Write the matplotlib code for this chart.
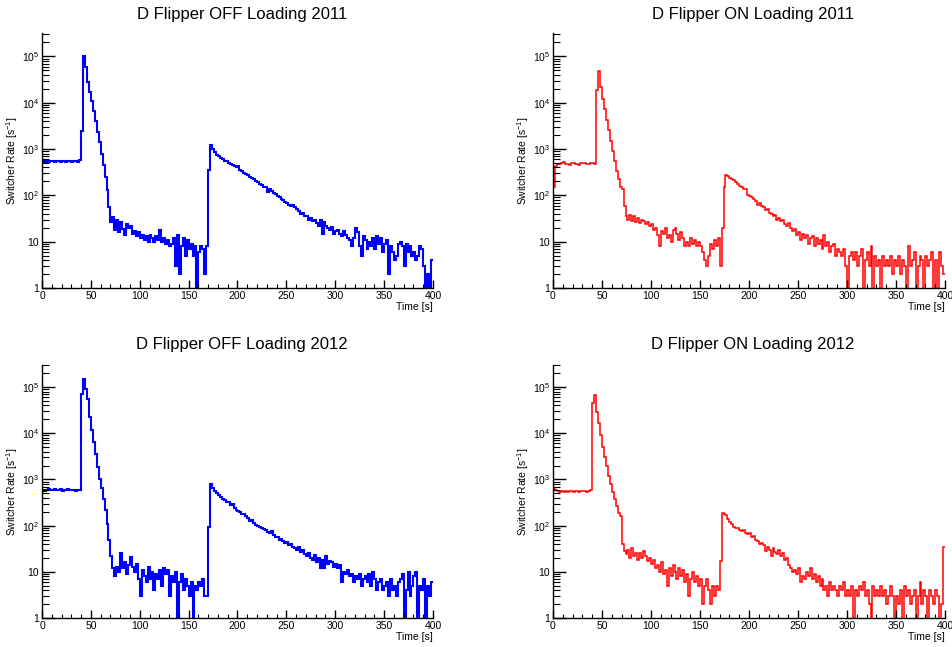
import numpy as np
import matplotlib
matplotlib.use("Agg")
import matplotlib.pyplot as plt
from matplotlib.ticker import FixedLocator, MultipleLocator, LogLocator, NullFormatter

plt.rcParams['font.family'] = ['Liberation Sans', 'DejaVu Sans']
plt.rcParams['mathtext.default'] = 'regular'

# ---------------- data (2 s bins, 0..400 s) ----------------
titles = ["D Flipper OFF Loading 2011", "D Flipper ON Loading 2011",
          "D Flipper OFF Loading 2012", "D Flipper ON Loading 2012"]
colors = ["#0000ff", "#ff0000", "#0000ff", "#ff0000"]

off_2011 = [560, 530, 550, 520, 540, 560, 530, 550, 540, 520, 560, 540, 530, 550, 560, 520, 540, 550, 530, 580,
            2500, 100000, 60000, 28000, 17000, 11000, 6500, 4000, 2300, 1400, 800, 450, 250, 130, 55,
            26, 34, 18, 30, 16, 26, 19, 14, 24, 20, 22, 15, 17, 13, 16,
            12, 14, 11, 13, 10, 14, 12, 10, 13, 11, 18, 10, 12, 9, 11, 8, 9, 12, 3, 14, 2, 8, 12, 5, 11,
            7, 9, 5, 8, 0, 6, 8, 7, 2, 8, 360, 1200,
            1000, 850, 760, 700, 640, 620, 560, 540, 500, 470, 460, 420, 400, 430, 360, 330, 310, 290, 270, 250,
            240, 220, 205, 190, 180, 170, 150, 155, 120, 140, 125, 110, 105, 95, 90, 85, 80, 72, 68, 62,
            60, 62, 55, 50, 46, 40, 42, 35, 36, 30, 33, 28, 29, 25, 22, 30, 15, 26, 22, 20,
            18, 21, 15, 17, 18, 15, 13, 17, 14, 12, 11, 8, 12, 20, 16, 8, 5, 13, 11, 7,
            10, 8, 12, 7, 13, 9, 12, 6, 9, 11, 2, 8, 6, 4, 5, 9, 10, 8, 3, 9,
            6, 8, 5, 6, 4, 5, 8, 7, 3, 0, 2, 0, 4]

on_2011 = [150, 420, 480, 470, 500, 520, 470, 480, 460, 490, 500, 470, 480, 460, 500, 490, 510, 480, 470, 490,
           500, 480, 19000, 48000, 22000, 12000, 7500, 4300, 2600, 1500, 900, 550, 330, 220, 150,
           135, 60, 36, 30, 38, 28, 36, 26, 32, 25, 30, 28, 24, 26, 22,
           24, 18, 20, 14, 8, 17, 15, 20, 12, 14, 10, 18, 20, 15, 11, 16, 12, 8, 10, 8,
           12, 9, 11, 8, 10, 8, 6, 4, 3, 5, 9, 7, 11, 8, 12, 3, 20,
           150, 270, 260, 240, 230, 210, 190, 180, 160, 150, 140, 135, 100, 95, 92, 85, 75, 62, 68, 60,
           55, 48, 52, 42, 40, 36, 38, 30, 33, 28, 30, 24, 22, 25, 20, 17, 19, 14, 16, 11,
           15, 12, 14, 9, 12, 13, 8, 12, 9, 11, 7, 14, 8, 10, 6, 8, 9, 5, 7, 6,
           5, 7, 3, 0, 5, 6, 4, 6, 3, 5, 7, 0, 4, 6, 3, 8, 0, 5, 3, 4,
           0, 5, 3, 4, 3, 5, 2, 4, 3, 5, 2, 4, 3, 0, 8, 3, 4, 6, 0, 3,
           5, 4, 0, 5, 3, 4, 6, 0, 4, 0, 6, 3, 2]

off_2012 = [600, 570, 590, 610, 580, 600, 620, 580, 590, 610, 570, 600, 590, 620, 580, 600, 590, 570, 600, 590,
            70000, 150000, 90000, 55000, 22000, 12000, 6500, 3500, 1900, 1000, 640, 380, 220, 110, 50, 22, 12,
            8, 13, 10, 25, 12, 16, 9, 14, 21, 13, 10, 15, 7,
            3, 11, 8, 6, 13, 7, 10, 4, 9, 7, 11, 5, 12, 9, 11, 3, 8, 6, 10, 0,
            6, 9, 4, 7, 5, 3, 6, 0, 5, 4, 6, 5, 7, 3, 3, 95, 800,
            650, 560, 500, 460, 420, 380, 350, 330, 320, 280, 300, 240, 220, 210, 195, 175, 180, 160, 145, 125,
            130, 115, 105, 100, 95, 90, 85, 80, 72, 68, 75, 62, 58, 56, 50, 52, 46, 42, 45, 38,
            40, 35, 32, 30, 34, 27, 29, 24, 22, 26, 20, 18, 23, 16, 20, 12, 18, 12, 22, 15,
            17, 16, 13, 15, 12, 14, 6, 10, 9, 11, 8, 9, 6, 8, 7, 9, 5, 7, 8, 6,
            9, 5, 10, 7, 4, 6, 7, 4, 5, 6, 3, 7, 4, 5, 3, 6, 7, 9, 0, 4,
            10, 3, 5, 8, 10, 0, 5, 4, 7, 0, 5, 3, 6]

on_2012 = [620, 600, 560, 540, 550, 540, 560, 540, 550, 560, 540, 550, 560, 540, 570, 550, 560, 540, 560, 580,
           46000, 66000, 29000, 17000, 9000, 5000, 3000, 2000, 1200, 800, 540, 380, 260, 185, 160,
           40, 28, 24, 30, 20, 33, 22, 26, 18, 25, 20, 28, 22, 17, 20,
           15, 18, 12, 14, 10, 16, 9, 11, 5, 12, 8, 14, 10, 7, 12, 8, 11, 6, 9, 3,
           7, 10, 6, 8, 5, 7, 2, 5, 7, 4, 2, 5, 3, 5, 4, 17,
           190, 180, 170, 140, 120, 110, 95, 88, 90, 82, 78, 80, 70, 65, 68, 58, 60, 50, 46, 40,
           42, 38, 28, 35, 30, 22, 32, 27, 24, 30, 22, 25, 18, 20, 14, 12, 10, 11, 9, 12,
           6, 8, 7, 10, 8, 12, 7, 9, 6, 8, 5, 7, 4, 5, 3, 6, 4, 5, 4, 3,
           5, 4, 6, 3, 4, 3, 5, 0, 4, 3, 5, 4, 6, 3, 4, 2, 0, 5, 3, 4,
           3, 5, 3, 4, 2, 3, 5, 3, 0, 3, 2, 4, 0, 5, 3, 4, 2, 3, 4, 0,
           3, 6, 2, 4, 3, 0, 4, 3, 2, 4, 3, 0, 2, 35]

series = [off_2011, on_2011, off_2012, on_2012]
x_max = 400
y_ticks = [1, 10, 100, 1000, 10000, 100000]
y_tick_labels = ["1", "10", "$10^{2}$", "$10^{3}$", "$10^{4}$", "$10^{5}$"]

# ---------------- layout ----------------
W, H = 953, 647
fig = plt.figure(figsize=(W / 100, H / 100), dpi=100)

boxes = [  # left, top, right, bottom in pixels
    (42, 33, 433, 288),
    (553, 33, 945, 288),
    (42, 365, 433, 618),
    (553, 365, 945, 618),
]
ylabel_x = [20, 531, 20, 531]
title_pos = [(242, 14), (753, 14), (242, 344), (753, 344)]

for i, (vals, col, ttl) in enumerate(zip(series, colors, titles)):
    l, t, r, b = boxes[i]
    ax = fig.add_axes([l / W, 1 - b / H, (r - l) / W, (b - t) / H])
    v = np.asarray(vals, dtype=float)
    edges = np.linspace(0, x_max, len(v) + 1)
    vplot = np.where(v > 0, v, 0.3)
    ax.stairs(vplot, edges, color=col, lw=1.5 if col == "#0000ff" else 1.1, baseline=None)
    ax.set_yscale('log')
    ax.set_xlim(0, x_max)
    ax.set_ylim(1, 3.2e5 if i < 2 else 3.0e5)
    for s in ('top', 'right'):
        ax.spines[s].set_visible(False)
    for s in ('left', 'bottom'):
        ax.spines[s].set_linewidth(1.0)
    ax.xaxis.set_major_locator(MultipleLocator(50))
    ax.xaxis.set_minor_locator(MultipleLocator(10))
    ax.yaxis.set_major_locator(FixedLocator(y_ticks))
    ax.set_yticklabels(y_tick_labels)
    ax.yaxis.set_minor_locator(LogLocator(base=10, subs=np.arange(2, 10), numticks=20))
    ax.yaxis.set_minor_formatter(NullFormatter())
    ax.tick_params(axis='both', which='both', direction='in', labelsize=7.5, colors='black', pad=2)
    ax.tick_params(axis='y', which='major', length=9, width=1)
    ax.tick_params(axis='y', which='minor', length=5, width=0.8)
    ax.tick_params(axis='x', which='major', length=6, width=1)
    ax.tick_params(axis='x', which='minor', length=3, width=0.8)
    ax.set_xlabel("Time [s]", loc='right', fontsize=7.5, labelpad=1)
    ax.set_ylabel("Switcher Rate [s$^{-1}$]", fontsize=7.5)
    ax.yaxis.set_label_coords((ylabel_x[i] - l) / (r - l), 0.5)
    ax.patch.set_visible(False)
    tx, ty = title_pos[i]
    fig.text(tx / W, 1 - ty / H, ttl, ha='center', va='center', fontsize=12)

fig.savefig("out.png", dpi=100)
